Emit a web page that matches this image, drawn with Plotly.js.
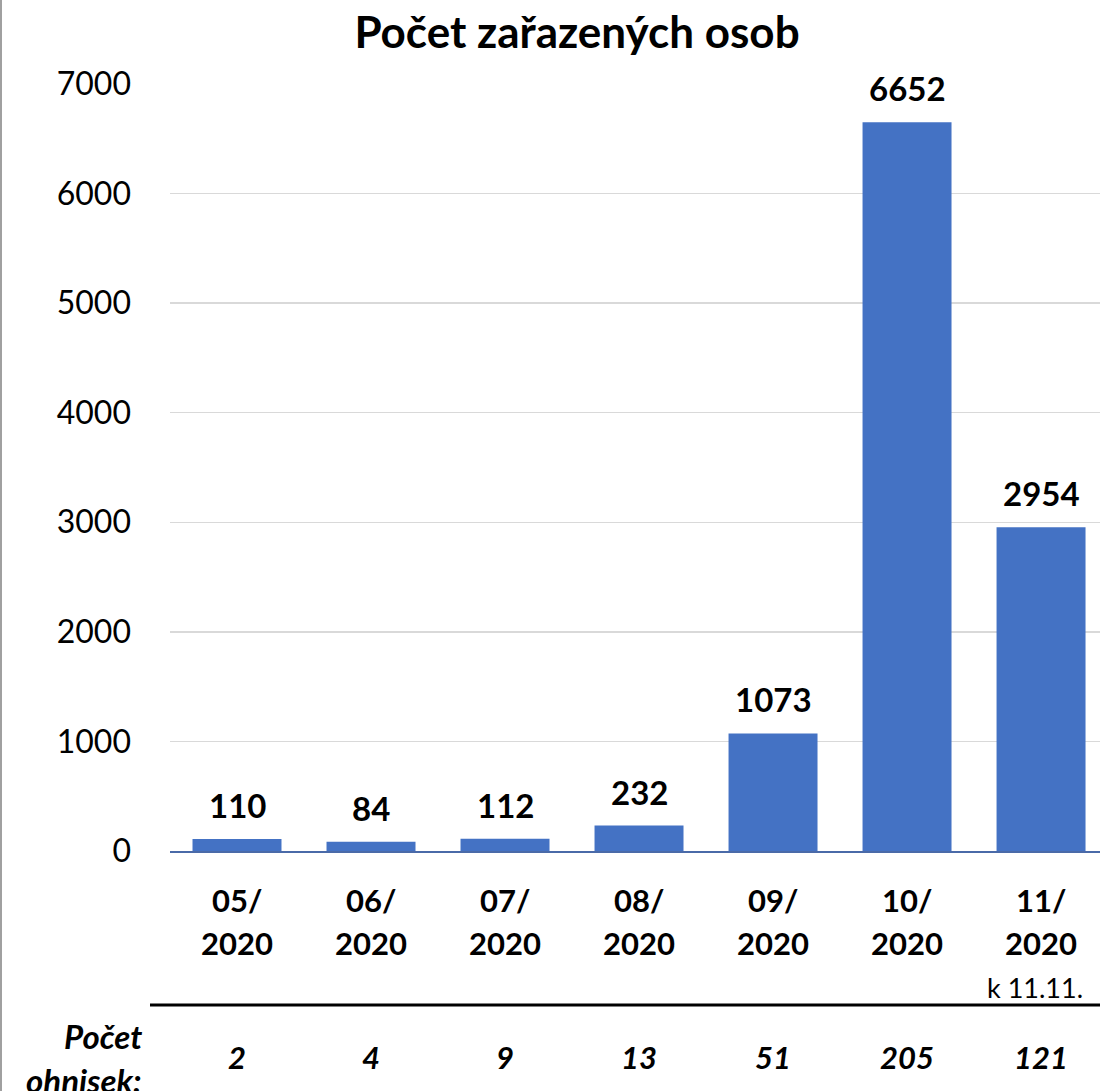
<!DOCTYPE html>
<html>
<head>
<meta charset="utf-8">
<script src="https://cdn.plot.ly/plotly-3.0.1.min.js"></script>
<style>html,body{margin:0;padding:0;background:#fff;}#chart{width:1100px;height:1091px;}</style>
</head>
<body>
<div id="chart"></div>
<script>
const categories = ["05/2020","06/2020","07/2020","08/2020","09/2020","10/2020","11/2020"];
const monthLabels = ["05/","06/","07/","08/","09/","10/","11/"];
const yearLabels = ["2020","2020","2020","2020","2020","2020","2020"];
const persons = [110, 84, 112, 232, 1073, 6652, 2954];
const outbreaks = [2, 4, 9, 13, 51, 205, 121];
const yTicks = [0,1000,2000,3000,4000,5000,6000,7000];

const FONT = "Lato, 'Noto Sans', sans-serif";
const pxY = p => (851 - p) / 767;
const pxX = p => (p - 170) / 930;

const annotations = [];
categories.forEach((c, i) => {
  annotations.push({x: c, y: persons[i], xref: 'x', yref: 'y', text: '<b>' + persons[i] + '</b>',
    showarrow: false, yanchor: 'bottom', yshift: 12, font: {size: 33, color: '#000', family: FONT}});
  annotations.push({x: c, y: pxY(900), xref: 'x', yref: 'paper', text: '<b>' + monthLabels[i] + '</b>',
    showarrow: false, yanchor: 'middle', font: {size: 31, color: '#000', family: FONT}});
  annotations.push({x: c, y: pxY(943), xref: 'x', yref: 'paper', text: '<b>' + yearLabels[i] + '</b>',
    showarrow: false, yanchor: 'middle', font: {size: 31, color: '#000', family: FONT}});
  annotations.push({x: c, y: pxY(1057), xref: 'x', yref: 'paper', text: '<b><i>' + outbreaks[i] + '</i></b>',
    showarrow: false, yanchor: 'middle', font: {size: 31, color: '#000', family: FONT}});
});
annotations.push({x: categories[6], y: pxY(988), xref: 'x', yref: 'paper', text: 'k 11.11.',
  showarrow: false, yanchor: 'middle', xshift: -6, font: {size: 27, color: '#000', family: FONT}});
annotations.push({x: pxX(144), y: pxY(1036), xref: 'paper', yref: 'paper', text: '<b><i>Počet</i></b>',
  showarrow: false, xanchor: 'right', yanchor: 'middle', font: {size: 33, color: '#000', family: FONT}});
annotations.push({x: pxX(144), y: pxY(1080), xref: 'paper', yref: 'paper', text: '<b><i>ohnisek:</i></b>',
  showarrow: false, xanchor: 'right', yanchor: 'middle', font: {size: 33, color: '#000', family: FONT}});

const data = [{
  type: 'bar', x: categories, y: persons,
  marker: {color: '#4472C4'}, hoverinfo: 'skip'
}];

const layout = {
  width: 1100, height: 1091,
  margin: {l: 170, r: 0, t: 84, b: 240},
  paper_bgcolor: '#fff', plot_bgcolor: '#fff',
  bargap: 0.336,
  showlegend: false,
  title: {text: '<b>Počet zařazených osob</b>', x: 577/1100, xanchor: 'center', y: 1 - 33/1091, yanchor: 'middle', yref: 'container',
    font: {size: 44, color: '#000', family: FONT}},
  xaxis: {type: 'category', range: [-0.5, 6.44], showticklabels: false, showgrid: false, zeroline: false,
    showline: true, linecolor: '#4a6aa8', linewidth: 2, ticks: ''},
  yaxis: {range: [0, 7000], tickvals: yTicks, ticktext: yTicks.map(String), showgrid: true, gridcolor: '#d9d9d9', gridwidth: 1.5,
    zeroline: false, showline: false, ticks: '', ticklabelstandoff: 38,
    tickfont: {size: 32, color: '#000', family: FONT}},
  annotations: annotations,
  shapes: [
    {type: 'line', xref: 'paper', yref: 'paper', x0: pxX(150), x1: 1, y0: pxY(1005), y1: pxY(1005), line: {color: '#000', width: 3}},
    {type: 'line', xref: 'paper', yref: 'paper', x0: pxX(1), x1: pxX(1), y0: pxY(0), y1: pxY(1091), line: {color: '#a0a0a0', width: 2}}
  ]
};

Plotly.newPlot('chart', data, layout, {displayModeBar: false, staticPlot: true});
</script>
</body>
</html>
